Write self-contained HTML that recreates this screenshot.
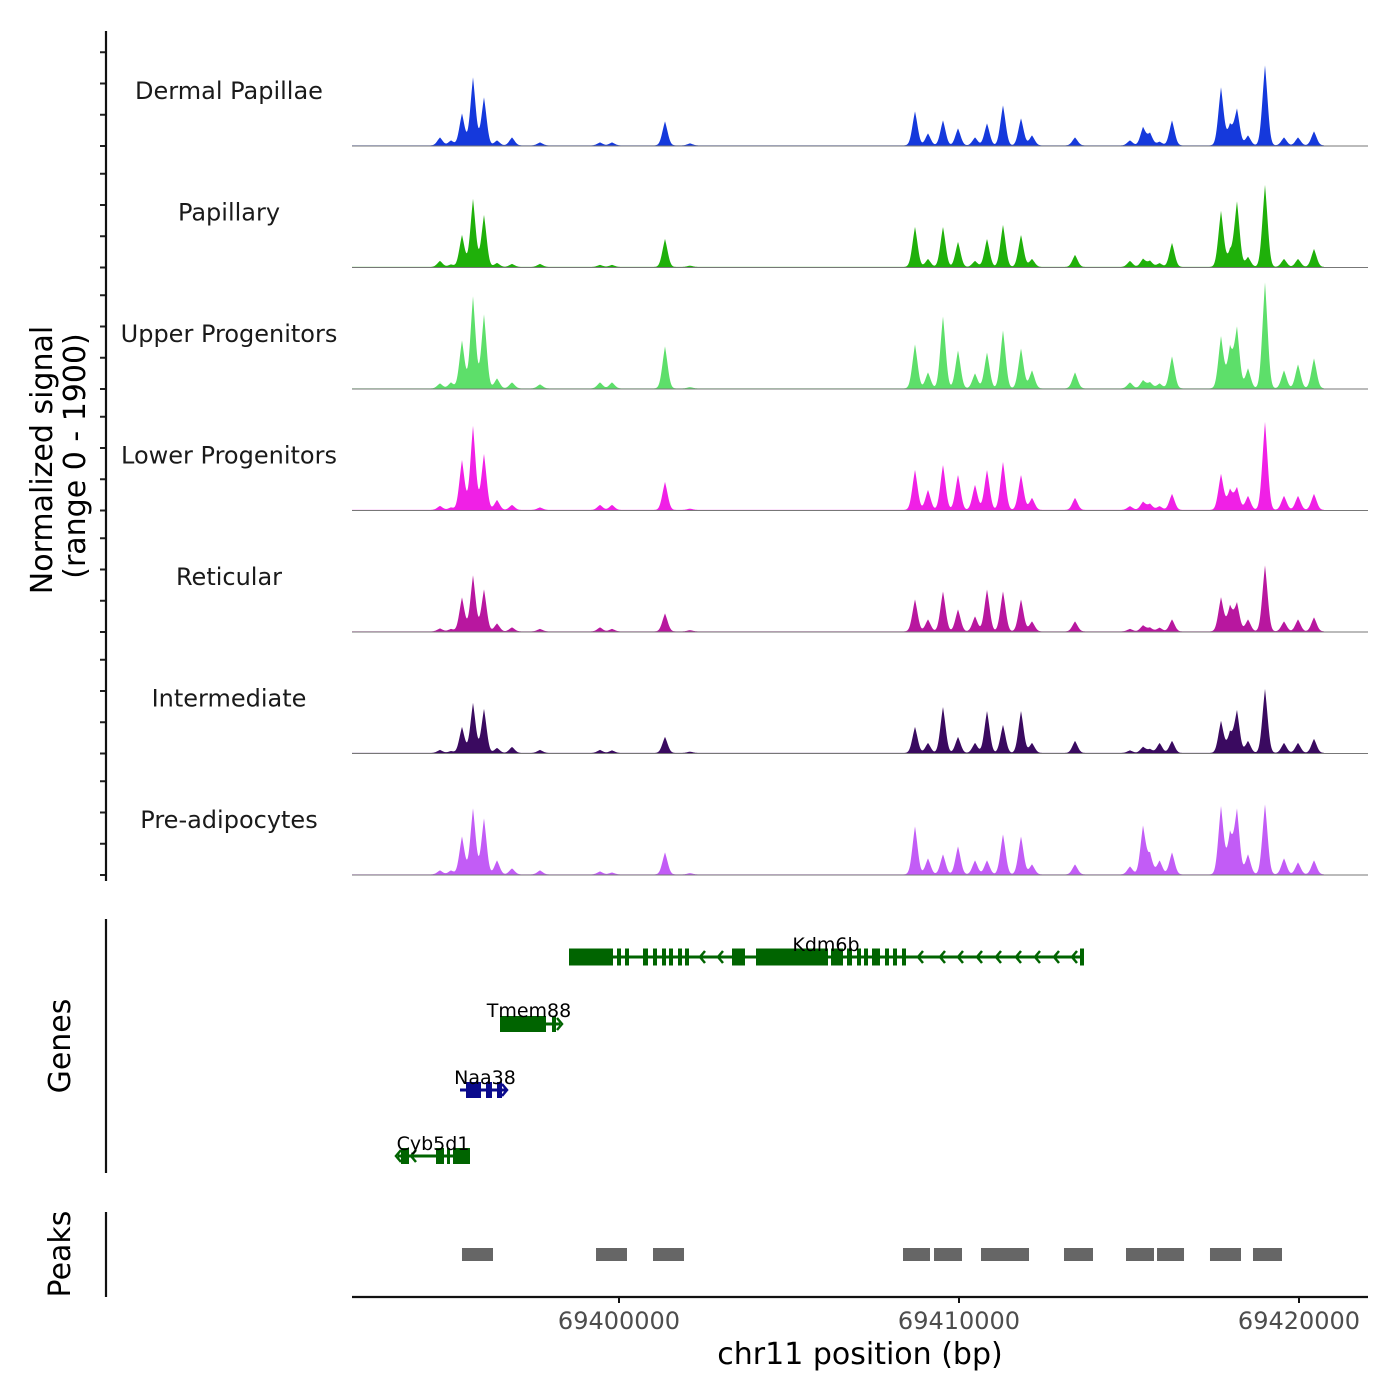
<!DOCTYPE html>
<html><head><meta charset="utf-8"><style>
body{margin:0;background:#fff}
svg{display:block;font-family:"DejaVu Sans","Liberation Sans",sans-serif}
</style></head><body>
<svg id="chart" width="1400" height="1400" viewBox="0 0 1400 1400"></svg>
<script>
// ---- data ----
const trackNames=["Dermal Papillae","Papillary","Upper Progenitors","Lower Progenitors","Reticular","Intermediate","Pre-adipocytes"];
const trackColors=["#1539dc","#1fb00a","#5ddf6a","#f020e6","#b8179f","#3a0a60","#c25cf6"];
const peakPos=[69394735,69395059,69395382,69395706,69396029,69396412,69396853,69397676,69399441,69399794,69401353,69402088,69408706,69409088,69409529,69409971,69410471,69410824,69411294,69411824,69412147,69413412,69415029,69415412,69415618,69415900,69416265,69417706,69417971,69418176,69418500,69419000,69419559,69419971,69420441];
const sigDP =[128,80,512,1088,768,80,128,48,48,48,384,32,544,192,400,272,128,352,640,432,160,128,80,288,192,60,400,928,320,576,160,1280,128,128,224];
const sigPap=[96,40,512,1088,832,64,48,48,32,32,448,20,640,128,640,400,96,448,672,512,128,192,96,128,96,60,384,896,240,1040,160,1312,128,128,288];
const sigUP =[80,96,768,1472,1184,160,96,64,96,96,672,20,704,256,1152,608,240,576,928,640,288,256,96,128,96,80,512,832,640,960,320,1696,288,384,480];
const sigLP =[64,40,800,1344,896,160,80,40,80,80,448,20,640,320,720,560,400,640,768,560,192,192,60,128,96,60,256,576,320,352,224,1408,224,224,256];
const sigRet=[48,40,544,896,672,128,64,40,64,40,288,20,512,192,640,352,240,672,640,512,160,160,40,96,60,60,192,544,400,448,192,1056,160,192,224];
const sigInt=[48,30,416,800,704,80,96,48,48,40,256,20,416,160,736,256,160,672,448,672,160,192,40,96,60,160,192,512,320,672,192,1024,160,160,224];
const sigPre=[64,64,608,1056,896,224,96,64,48,30,352,20,768,256,320,448,224,224,640,608,160,160,128,768,320,224,352,1088,640,1024,320,1120,256,192,224];
const signals=[sigDP,sigPap,sigUP,sigLP,sigRet,sigInt,sigPre];
const xTicks=[69400000,69410000,69420000];
const peakStarts=[69395382,69399324,69401000,69408353,69409265,69410647,69413088,69414912,69415824,69417382,69418647];
const peakEnds=[69396294,69400235,69401912,69409147,69410088,69412059,69413941,69415735,69416618,69418294,69419500];

// ---- scales ----
const X0=352,X1=1368;
const bpPerPx=1/0.034;
function xs(bp){return 619+(bp-69400000)*0.034;}
const base0=146,trackStep=121.5,trackH=121;
function ys(v,i){return base0+i*trackStep - v*trackH/1936;}

const svg=document.getElementById('chart');
const NS="http://www.w3.org/2000/svg";
function mk(tag,attrs,parent){const e=document.createElementNS(NS,tag);for(const k in attrs)e.setAttribute(k,attrs[k]);(parent||svg).appendChild(e);return e;}

signals.forEach((sig,i)=>{
  const g=mk('g',{});
  
  
  const sigma=125;
  let d='M'+X0+','+ys(0,i);
  for(let px=X0;px<=1324;px+=0.5){
    const bp=69400000+(px-619)*bpPerPx;
    let v=0;
    for(let k=0;k<peakPos.length;k++){const dd=(bp-peakPos[k])/sigma;if(Math.abs(dd)<5)v+=sig[k]*(0.75*Math.exp(-dd*dd)+0.25*Math.exp(-Math.abs(dd)*2.5));}
    v+=10;
    d+='L'+px.toFixed(1)+','+ys(v,i).toFixed(2);
  }
  d+='L1324,'+ys(0,i)+'Z';
  const a=mk('path',{d:d,fill:trackColors[i]},g);
  
  
  const bl=mk('line',{x1:X0,x2:X1,y1:ys(0,i),y2:ys(0,i),stroke:'#777','stroke-width':1},g);
  
  
  const t=mk('text',{x:229,y:ys(0,i)-47,'text-anchor':'middle','font-size':24,fill:'#1a1a1a'},g);
  t.textContent=trackNames[i];
  
  
  for(const tv of [0,500,1000,1500]){
    const tk=mk('line',{x1:100,x2:106,y1:ys(tv,i),y2:ys(tv,i),stroke:'#222','stroke-width':2},g);
    
    
  }
});
</script>
<script>
const s2=document.getElementById('chart');
function m2(tag,attrs,name){const e=document.createElementNS("http://www.w3.org/2000/svg",tag);for(const k in attrs)e.setAttribute(k,attrs[k]);s2.appendChild(e);


return e;}
m2('line',{x1:106,x2:106,y1:31,y2:881,stroke:'#111','stroke-width':2.2},'track-y-axis');
m2('line',{x1:106,x2:106,y1:919,y2:1173,stroke:'#111','stroke-width':2.2},'genes-y-axis');
m2('line',{x1:106,x2:106,y1:1212,y2:1297,stroke:'#111','stroke-width':2.2},'peaks-y-axis');
let t=m2('text',{x:0,y:0,'font-size':30,'text-anchor':'middle',fill:'#000',transform:'translate(52,460) rotate(-90)'},'y-axis-title');
t.textContent='Normalized signal';
t=m2('text',{x:0,y:0,'font-size':30,'text-anchor':'middle',fill:'#000',transform:'translate(85,456) rotate(-90)'},'y-axis-subtitle');
t.textContent='(range 0 - 1900)';
t=m2('text',{x:0,y:0,'font-size':30,'text-anchor':'middle',fill:'#000',transform:'translate(70,1046) rotate(-90)'},'genes-title');
t.textContent='Genes';
t=m2('text',{x:0,y:0,'font-size':30,'text-anchor':'middle',fill:'#000',transform:'translate(70,1254) rotate(-90)'},'peaks-title');
t.textContent='Peaks';

const G='#006400',B='#0a0a8c';
function rect(x1,x2,y,h,c,name){m2('rect',{x:x1,y:y-h/2,width:x2-x1,height:h,fill:c},name);}
function line(x1,x2,y,c,name){m2('line',{x1:x1,x2:x2,y1:y,y2:y,stroke:c,'stroke-width':3},name);}
function arrowL(x,y,c){m2('path',{d:`M${x+5},${y-6}L${x},${y}L${x+5},${y+6}`,stroke:c,'stroke-width':2.5,fill:'none'},'strand-arrow');}
function arrowR(x,y,c){m2('path',{d:`M${x-5},${y-6}L${x},${y}L${x-5},${y+6}`,stroke:c,'stroke-width':2.5,fill:'none'},'strand-arrow');}
function lbl(x,y,s,name){const e=m2('text',{x:x,y:y,'font-size':19,'text-anchor':'middle',fill:'#000'},name);e.textContent=s;}
let y=957;
line(569,1083,y,G,'kdm6b-intron');
[[569,613],[617,621],[625,629],[643,648],[653,657],[662,666],[669,673],[678,682],[685,689],[732,745],[756,828],[831,843],[847,852],[857,861],[864,868],[872,880],[885,889],[893,897],[902,906],[1080,1084]].forEach(b=>rect(b[0],b[1],y,17,G,'kdm6b-exon'));
[700,718,918,940,958,977,996,1016,1035,1054,1072].forEach(x=>arrowL(x,y,G));
lbl(826,951,'Kdm6b','kdm6b-label');
y=1024;line(500,560,y,G,'tmem88-intron');
rect(500,546,y,16,G,'tmem88-exon');rect(552,556,y,16,G,'tmem88-exon');arrowR(562,y,G);
lbl(529,1017,'Tmem88','tmem88-label');
y=1090;line(460,507,y,B,'naa38-intron');
rect(466,481,y,16,B,'naa38-exon');rect(486,492,y,16,B,'naa38-exon');rect(497,502,y,16,B,'naa38-exon');arrowR(507,y,B);
lbl(485,1084,'Naa38','naa38-label');
y=1156;line(398,470,y,G,'cyb5d1-intron');
rect(401,409,y,16,G,'cyb5d1-exon');arrowL(396,y,G);arrowL(411,y,G);
rect(436,444,y,16,G,'cyb5d1-exon');rect(447,450,y,16,G,'cyb5d1-exon');rect(453,470,y,16,G,'cyb5d1-exon');
lbl(433,1150,'Cyb5d1','cyb5d1-label');

peakStarts.forEach((s,i)=>{
  m2('rect',{x:xs(s),y:1248,width:xs(peakEnds[i])-xs(s),height:13,fill:'#666'},'peak-region');
});
m2('line',{x1:352,x2:1368,y1:1297,y2:1297,stroke:'#111','stroke-width':2.2},'x-axis-line');
xTicks.forEach(v=>{
  m2('line',{x1:xs(v),x2:xs(v),y1:1297,y2:1303,stroke:'#111','stroke-width':2},'x-tick');
  const e=m2('text',{x:xs(v),y:1329,'font-size':24,'text-anchor':'middle',fill:'#4d4d4d'},'x-tick-label');
  e.textContent=String(v);
});
t=m2('text',{x:860,y:1364,'font-size':30,'text-anchor':'middle',fill:'#000'},'x-axis-title');
t.textContent='chr11 position (bp)';
</script>
</body></html>
